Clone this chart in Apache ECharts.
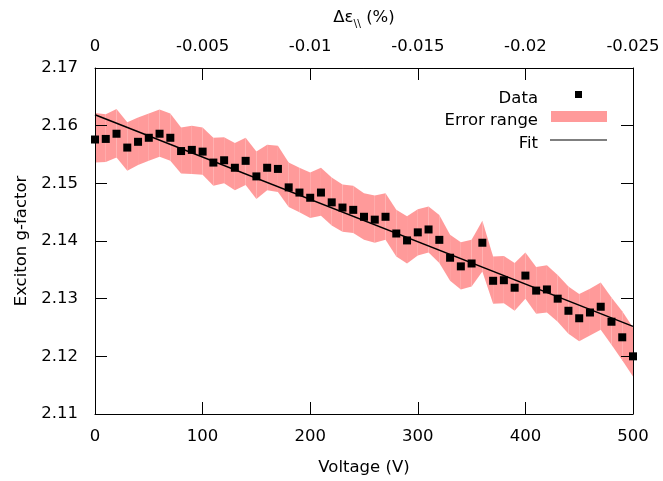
<!DOCTYPE html>
<html>
<head>
<meta charset="utf-8">
<script src="https://cdn.jsdelivr.net/npm/echarts@6/dist/echarts.min.js"></script>
<style>
html,body{margin:0;padding:0;background:#fff;}
#chart{width:663px;height:481px;}
</style>
</head>
<body>
<div id="chart"></div>
<script>
// ---- data ----
const voltages = [0,10,20,30,40,50,60,70,80,90,100,110,120,130,140,150,160,170,180,190,200,210,220,230,240,250,260,270,280,290,300,310,320,330,340,350,360,370,380,390,400,410,420,430,440,450,460,470,480,490,500];
const gFactor = [2.1576,2.1577,2.1586,2.1562,2.1572,2.1579,2.1586,2.1579,2.1556,2.1558,2.1555,2.1536,2.1540,2.1527,2.1539,2.1512,2.1527,2.1525,2.1493,2.1484,2.1475,2.1484,2.1467,2.1458,2.1454,2.1442,2.1437,2.1442,2.1413,2.1401,2.1415,2.1420,2.1402,2.1371,2.1356,2.1361,2.1397,2.1331,2.1332,2.1319,2.1340,2.1314,2.1316,2.1300,2.1279,2.1266,2.1276,2.1286,2.1260,2.1233,2.1200];
const errPlus = [0.0046,0.0043,0.0043,0.0044,0.0042,0.0042,0.0042,0.0042,0.0041,0.0042,0.0042,0.0043,0.0040,0.0043,0.0040,0.0043,0.0040,0.0040,0.0043,0.0043,0.0044,0.0043,0.0043,0.0040,0.0042,0.0041,0.0042,0.0041,0.0041,0.0042,0.0040,0.0040,0.0043,0.0040,0.0042,0.0041,0.0038,0.0042,0.0042,0.0043,0.0040,0.0041,0.0042,0.0041,0.0042,0.0042,0.0041,0.0042,0.0042,0.0045,0.0050];
const errMinus = [0.0040,0.0040,0.0041,0.0040,0.0040,0.0040,0.0040,0.0040,0.0039,0.0042,0.0040,0.0040,0.0040,0.0039,0.0042,0.0039,0.0039,0.0040,0.0034,0.0034,0.0035,0.0040,0.0040,0.0042,0.0040,0.0040,0.0040,0.0040,0.0040,0.0040,0.0040,0.0040,0.0040,0.0040,0.0040,0.0040,0.0050,0.0040,0.0040,0.0040,0.0040,0.0040,0.0040,0.0040,0.0040,0.0040,0.0040,0.0040,0.0040,0.0040,0.0035];
const fitVoltages = [0, 500];
const fitValues = [2.1619, 2.1252];
const bottomTicks = {min: 0, max: 500, step: 100};
const topTicks = {min: -0.025, max: 0, step: 0.005};
const yTicks = {min: 2.11, max: 2.17, step: 0.01};

const FONT = 'DejaVu Sans';
const FS = 16.5;
const BAND = '#ff9a9a';

// band segments: [v_i, lo_i, hi_i, v_i+1, lo_i+1, hi_i+1]
const bandSegments = [];
for (let i = 0; i < voltages.length - 1; i++) {
  bandSegments.push([
    voltages[i], gFactor[i] - errMinus[i], gFactor[i] + errPlus[i],
    voltages[i + 1], gFactor[i + 1] - errMinus[i + 1], gFactor[i + 1] + errPlus[i + 1]
  ]);
}
const pts = voltages.map((v, i) => [v, gFactor[i]]);
const fitData = fitVoltages.map((v, i) => [v, fitValues[i]]);

const chart = echarts.init(document.getElementById('chart'), null, {renderer: 'canvas'});
const tickCommon = {show: true, inside: true, length: 12, lineStyle: {color: '#000', width: 1}};
const lineCommon = {show: true, onZero: false, lineStyle: {color: '#000', width: 1}};
const labelCommon = {color: '#000', fontFamily: FONT, fontSize: FS};
const legendFont = FS + 'px "DejaVu Sans"';

chart.setOption({
  animation: false,
  backgroundColor: '#fff',
  grid: {left: 95, right: 30, top: 68, bottom: 66},
  xAxis: [
    {
      type: 'value', position: 'bottom', z: 10,
      min: bottomTicks.min, max: bottomTicks.max, interval: bottomTicks.step,
      axisLine: lineCommon, axisTick: tickCommon,
      axisLabel: Object.assign({margin: 14}, labelCommon),
      splitLine: {show: false},
      name: 'Voltage (V)', nameLocation: 'middle', nameGap: 45,
      nameTextStyle: labelCommon
    },
    {
      type: 'value', position: 'top', inverse: true, z: 10,
      min: topTicks.min, max: topTicks.max, interval: topTicks.step,
      axisLine: lineCommon, axisTick: tickCommon,
      axisLabel: Object.assign({margin: 13}, labelCommon),
      splitLine: {show: false},
      name: '{a|Δε}{b|\\\\}{a| (%)}', nameLocation: 'middle', nameGap: 38,
      nameTextStyle: {
        rich: {
          a: {fontFamily: FONT, fontSize: FS, color: '#000', verticalAlign: 'bottom', lineHeight: 18, padding: [0, 0, 4, 0]},
          b: {fontFamily: FONT, fontSize: 11, color: '#000', verticalAlign: 'bottom', lineHeight: 13}
        }
      }
    }
  ],
  yAxis: [
    {
      type: 'value', position: 'left', z: 10,
      min: yTicks.min, max: yTicks.max, interval: yTicks.step,
      axisLine: lineCommon, axisTick: tickCommon,
      axisLabel: Object.assign({margin: 17, formatter: v => v.toFixed(2)}, labelCommon),
      splitLine: {show: false},
      name: 'Exciton g-factor', nameLocation: 'middle', nameGap: 64,
      nameTextStyle: labelCommon
    },
    {
      type: 'value', position: 'right', z: 10,
      min: yTicks.min, max: yTicks.max, interval: yTicks.step,
      axisLine: lineCommon, axisTick: tickCommon,
      axisLabel: {show: false}, splitLine: {show: false}
    }
  ],
  series: [
    {
      name: 'Error range', type: 'custom', data: bandSegments,
      xAxisIndex: 0, yAxisIndex: 0, silent: true, z: 1,
      encode: {x: [0, 3], y: [1, 2, 4, 5]},
      renderItem: function (params, api) {
        const a = api.coord([api.value(0), api.value(2)]);
        const b = api.coord([api.value(3), api.value(5)]);
        const c = api.coord([api.value(3), api.value(4)]);
        const d = api.coord([api.value(0), api.value(1)]);
        return {
          type: 'polygon',
          shape: {points: [a, b, c, d]},
          style: {fill: BAND, stroke: null}
        };
      }
    },
    {
      name: 'Fit', type: 'line', data: fitData,
      xAxisIndex: 0, yAxisIndex: 0,
      symbol: 'none', lineStyle: {color: '#000', width: 1.5}, z: 3
    },
    {
      name: 'Data', type: 'scatter', data: pts,
      xAxisIndex: 0, yAxisIndex: 0, clip: false,
      symbol: 'rect', symbolSize: 8, itemStyle: {color: '#000', opacity: 1}, z: 4
    }
  ],
  graphic: [
    {type: 'text', z: 100, x: 538, y: 98.5, style: {text: 'Data', x: 0, y: 0, align: 'right', verticalAlign: 'middle', font: legendFont, fill: '#000'}},
    {type: 'rect', z: 100, x: 575, y: 91, shape: {x: 0, y: 0, width: 7, height: 7}, style: {fill: '#000'}},
    {type: 'text', z: 100, x: 538, y: 121, style: {text: 'Error range', x: 0, y: 0, align: 'right', verticalAlign: 'middle', font: legendFont, fill: '#000'}},
    {type: 'rect', z: 100, x: 551, y: 111, shape: {x: 0, y: 0, width: 56, height: 11}, style: {fill: BAND}},
    {type: 'text', z: 100, x: 538, y: 144, style: {text: 'Fit', x: 0, y: 0, align: 'right', verticalAlign: 'middle', font: legendFont, fill: '#000'}},
    {type: 'line', z: 100, shape: {x1: 550, y1: 140, x2: 607, y2: 140}, style: {stroke: '#000', lineWidth: 1.2}}
  ]
});
</script>
</body>
</html>
